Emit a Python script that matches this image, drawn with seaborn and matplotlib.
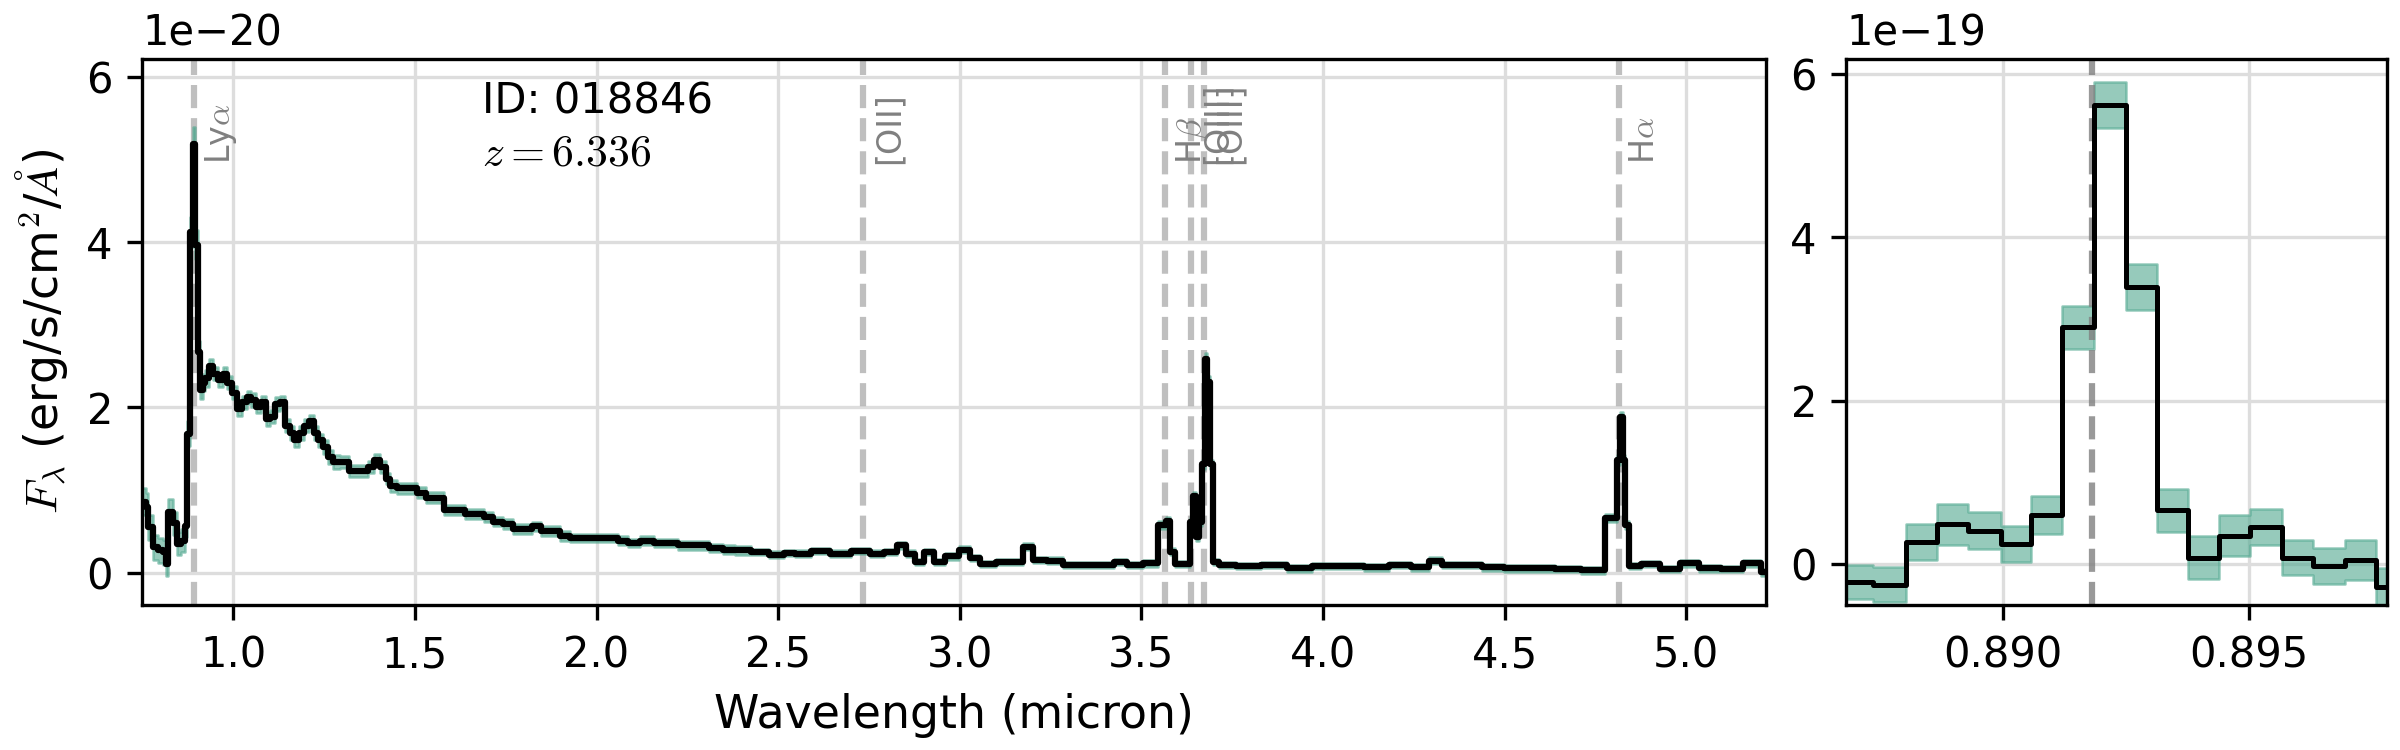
import matplotlib
matplotlib.use("Agg")
import matplotlib.pyplot as plt
import seaborn as sns
import numpy as np

# Full prism spectrum (flux in units of 1e-20 erg/s/cm2/A)
wave_full = [
    0.749, 0.755, 0.762, 0.771, 0.785, 0.799, 0.812, 0.817, 0.826, 0.840, 0.849, 0.863,
    0.8705, 0.8775, 0.8845, 0.8915, 0.8985, 0.9055, 0.9125, 0.9195, 0.9265,
    0.938, 0.951, 0.964, 0.977, 0.991, 1.004, 1.017, 1.030, 1.043, 1.056, 1.070, 1.083, 1.096,
    1.109, 1.122, 1.136, 1.149, 1.162, 1.175, 1.188, 1.202, 1.215, 1.228, 1.241, 1.254, 1.267, 1.281,
    1.307, 1.333, 1.360, 1.380, 1.393, 1.413, 1.426, 1.439, 1.465, 1.492, 1.518, 1.545, 1.571,
    1.591, 1.624, 1.650, 1.676, 1.703, 1.729, 1.756, 1.782, 1.808, 1.835, 1.861, 1.887, 1.914,
    1.940, 1.993, 2.046, 2.072, 2.099, 2.138, 2.178, 2.204, 2.244, 2.283, 2.336, 2.362, 2.402,
    2.450, 2.500, 2.530, 2.564, 2.617, 2.669, 2.731, 2.775, 2.810, 2.842, 2.863, 2.889, 2.915,
    2.942, 2.977, 3.017, 3.038, 3.074, 3.126, 3.162, 3.188, 3.214, 3.267, 3.302, 3.373, 3.408,
    3.443, 3.478, 3.531,
    3.563, 3.573, 3.584, 3.601, 3.628, 3.640, 3.645, 3.654, 3.663, 3.672, 3.677, 3.684, 3.693,
    3.703, 3.724,
    3.795, 3.865, 3.935, 4.006, 4.076, 4.147, 4.217, 4.270, 4.314, 4.340, 4.410, 4.463, 4.533,
    4.604, 4.674, 4.744, 4.806, 4.815, 4.822, 4.829, 4.836, 4.850, 4.903, 4.955, 5.008, 5.061,
    5.131, 5.184, 5.228,
]
flux_full = [
    0.86, 0.86, 0.80, 0.55, 0.31, 0.27, 0.25, 0.11, 0.74, 0.60, 0.35, 0.39,
    0.57, 1.68, 4.12, 5.19, 3.97, 2.67, 2.21, 2.30, 2.35,
    2.50, 2.41, 2.33, 2.41, 2.30, 2.18, 1.98, 2.06, 2.12, 2.09, 2.01, 2.06, 1.86,
    1.89, 2.04, 2.06, 1.78, 1.69, 1.60, 1.69, 1.78, 1.83, 1.69, 1.60, 1.52, 1.40, 1.34,
    1.34, 1.23, 1.23, 1.28, 1.37, 1.28, 1.14, 1.05, 1.02, 1.02, 0.97, 0.91, 0.91,
    0.76, 0.76, 0.71, 0.71, 0.68, 0.62, 0.59, 0.53, 0.53, 0.56, 0.50, 0.50, 0.45,
    0.42, 0.42, 0.42, 0.39, 0.36, 0.39, 0.36, 0.36, 0.33, 0.33, 0.30, 0.28, 0.27,
    0.25, 0.22, 0.24, 0.23, 0.265, 0.23, 0.265, 0.23, 0.25, 0.33, 0.23, 0.13, 0.25,
    0.13, 0.20, 0.28, 0.18, 0.105, 0.13, 0.13, 0.315, 0.155, 0.145, 0.095, 0.095, 0.095,
    0.13, 0.095, 0.115,
    0.58, 0.63, 0.255, 0.105, 0.105, 0.61, 0.93, 0.43, 0.61, 1.31, 2.59, 2.31, 1.31,
    0.13, 0.095,
    0.08, 0.095, 0.055, 0.08, 0.08, 0.065, 0.095, 0.065, 0.145, 0.095, 0.095, 0.065, 0.055,
    0.055, 0.045, 0.03, 0.66, 1.36, 1.88, 1.36, 0.58, 0.08, 0.105, 0.045, 0.115, 0.055,
    0.045, 0.115, 0.005,
]
err_full = [
    0.16, 0.16, 0.16, 0.15, 0.15, 0.15, 0.15, 0.15, 0.15, 0.14, 0.14, 0.14,
    0.14, 0.15, 0.18, 0.20, 0.17, 0.13, 0.11, 0.10, 0.10,
    0.08, 0.08, 0.08, 0.08, 0.08, 0.08, 0.08, 0.08, 0.08, 0.08, 0.08, 0.08, 0.08,
    0.08, 0.08, 0.08, 0.08, 0.08, 0.08, 0.08, 0.08, 0.08, 0.08, 0.08, 0.08, 0.08, 0.08,
    0.07, 0.07, 0.07, 0.07, 0.07, 0.07, 0.07, 0.07, 0.07, 0.07, 0.07, 0.07, 0.07,
    0.06, 0.06, 0.06, 0.06, 0.06, 0.06, 0.06, 0.06, 0.06, 0.06, 0.06, 0.06, 0.06,
    0.05, 0.05, 0.05, 0.05, 0.05, 0.05, 0.05, 0.05, 0.05, 0.05, 0.05, 0.05, 0.05,
    0.04, 0.04, 0.04, 0.04, 0.04, 0.04, 0.04, 0.04, 0.04, 0.04, 0.04, 0.04, 0.04,
    0.04, 0.04, 0.04, 0.04, 0.04, 0.04, 0.04, 0.04, 0.04, 0.04, 0.04, 0.04, 0.04,
    0.04, 0.04, 0.04,
    0.05, 0.05, 0.04, 0.04, 0.04, 0.05, 0.05, 0.04, 0.05, 0.06, 0.07, 0.07, 0.06,
    0.04, 0.04,
    0.04, 0.04, 0.04, 0.04, 0.04, 0.04, 0.04, 0.04, 0.04, 0.04, 0.04, 0.04, 0.04,
    0.04, 0.04, 0.04, 0.05, 0.06, 0.07, 0.06, 0.05, 0.04, 0.04, 0.04, 0.04, 0.04,
    0.04, 0.04, 0.04,
]

# Zoom on Lya (flux in units of 1e-19), bins given by their edges
zoom_edges = [
    0.886742, 0.887374, 0.888035, 0.888667, 0.889300, 0.889961, 0.890584, 0.891216,
    0.891858, 0.892510, 0.893142, 0.893774, 0.894407, 0.895039, 0.895671, 0.896304,
    0.896955, 0.897597, 0.898229,
]
zoom_flux = [-0.22, -0.25, 0.275, 0.49, 0.41, 0.25, 0.60, 2.90, 5.62, 3.39,
             0.66, 0.08, 0.35, 0.46, 0.08, -0.02, 0.05, -0.28]
zoom_err = [0.205, 0.21, 0.22, 0.25, 0.23, 0.22, 0.23, 0.26, 0.28, 0.28,
            0.26, 0.26, 0.25, 0.22, 0.21, 0.22, 0.24, 0.23]

redshift = 6.336
obj_id = "018846"
line_names = [r"Ly$\alpha$", "[OII]", r"H$\beta$", "[OIII]", "[OIII]", r"H$\alpha$"]
line_rest = [0.121567, 0.3727, 0.48613, 0.49589, 0.50068, 0.65628]

full_xticks = [1.0, 1.5, 2.0, 2.5, 3.0, 3.5, 4.0, 4.5, 5.0]
full_yticks = [0, 2, 4, 6]
zoom_xticks = [0.890, 0.895]
zoom_yticks = [0, 2, 4, 6]

assert len(wave_full) == len(flux_full) == len(err_full)

plt.rcParams["mathtext.fontset"] = "cm"
plt.rcParams["font.family"] = ["DejaVu Sans"]

band_color = "#50a88f"

wave = np.array(wave_full)
flux = np.array(flux_full) * 1e-20
err = np.array(err_full) * 1e-20

fig = plt.figure(figsize=(8, 2.5), dpi=300)
ax1 = fig.add_axes([0.0592, 0.1933, 0.6767, 0.7287])
ax2 = fig.add_axes([0.7692, 0.1933, 0.2253, 0.7287])

# main spectrum
line_obs = [l * (1 + redshift) for l in line_rest]
for lam, name in zip(line_obs, line_names):
    ax1.axvline(lam, color="gray", alpha=0.5, ls="--", lw=1.5, zorder=1)
    ax1.text(lam + 0.025, 4.95e-20, name, rotation=90, color="gray",
             fontsize=8, ha="left", va="bottom")

ax1.fill_between(wave, flux - err, flux + err, step="mid", color=band_color,
                 alpha=0.6, lw=0.6, zorder=2)
sns.lineplot(x=wave, y=flux, ax=ax1, color="k", lw=1.5, drawstyle="steps-mid",
             estimator=None, sort=False, legend=False, zorder=3)

ax1.set_xlim(0.749, 5.22)
ax1.set_ylim(-0.39e-20, 6.22e-20)
ax1.set_xticks(full_xticks)
ax1.set_yticks([v * 1e-20 for v in full_yticks])
ax1.grid(True, color="#dddddd", lw=0.8)
ax1.set_axisbelow(True)
ax1.set_xlabel("Wavelength (micron)", fontsize=11)
ax1.set_ylabel(r"$F_\lambda$ (erg/s/cm$^2$/$\AA$)", fontsize=11)
ax1.text(0.209, 0.96, f"ID: {obj_id}", transform=ax1.transAxes, fontsize=10,
         ha="left", va="top")
ax1.text(0.209, 0.805, rf"$z={redshift:.3f}$", transform=ax1.transAxes,
         fontsize=10.5, ha="left", va="baseline")

# zoom on Lyman alpha
edges = np.array(zoom_edges)
zf = np.array(zoom_flux) * 1e-19
ze = np.array(zoom_err) * 1e-19
zf_ext = np.append(zf, zf[-1])
ze_ext = np.append(ze, ze[-1])

ax2.axvline(line_obs[0], color="gray", alpha=0.8, ls="--", lw=1.5, zorder=2.5)
ax2.fill_between(edges, zf_ext - ze_ext, zf_ext + ze_ext, step="post",
                 color=band_color, alpha=0.6, lw=0.6, zorder=2)
sns.lineplot(x=edges, y=zf_ext, ax=ax2, color="k", lw=1.2, drawstyle="steps-post",
             estimator=None, sort=False, legend=False, zorder=3)

ax2.set_xlim(0.886818, 0.89781)
ax2.set_ylim(-0.50e-19, 6.19e-19)
ax2.set_xticks(zoom_xticks)
ax2.set_yticks([v * 1e-19 for v in zoom_yticks])
ax2.grid(True, color="#dddddd", lw=0.8)
ax2.set_axisbelow(True)

fig.savefig("out.png", dpi=300)
plt.close(fig)
